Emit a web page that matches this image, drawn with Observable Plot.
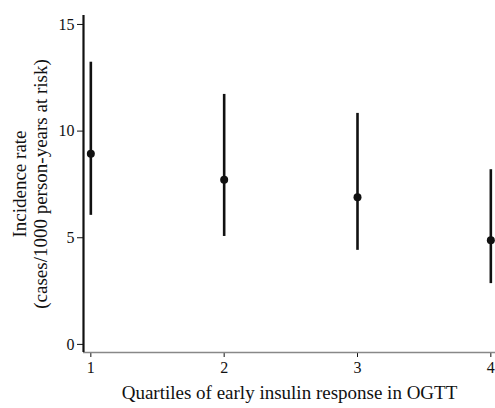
<!DOCTYPE html>
<html>
<head>
<meta charset="utf-8">
<script src="https://cdn.jsdelivr.net/npm/d3@7"></script>
<script src="https://cdn.jsdelivr.net/npm/@observablehq/plot@0.6"></script>
<style>
  html, body { margin: 0; padding: 0; background: #fff; }
</style>
</head>
<body>
<div id="chart"></div>
<script>
const quartiles = [1, 2, 3, 4];
const rates = [8.94, 7.72, 6.9, 4.88];
const lower = [6.05, 5.06, 4.41, 2.85];
const upper = [13.23, 11.72, 10.83, 8.19];
const yTicks = [0, 5, 10, 15];
const xTicks = [1, 2, 3, 4];
const xDomain = [0.945, 4.035];
const yDomain = [-0.38, 15.42];
const xTitle = "Quartiles of early insulin response in OGTT";
const yTitle = "Incidence rate\n(cases/1000 person-years at risk)";

const data = quartiles.map((q, i) => ({q, rate: rates[i], lo: lower[i], hi: upper[i]}));

const chart = Plot.plot({
  width: 495,
  height: 408,
  marginLeft: 83,
  marginRight: 0,
  marginTop: 15,
  marginBottom: 56,
  style: {fontFamily: "'Liberation Serif', 'Times New Roman', serif", fontSize: "16px", color: "#111", background: "#fff"},
  x: {domain: xDomain, ticks: xTicks, tickSize: 5, tickPadding: 4, tickFormat: d => String(d), label: null},
  y: {domain: yDomain, ticks: yTicks, tickSize: 6, tickPadding: 3, label: null},
  marks: [
    Plot.ruleY([yDomain[0]], {stroke: "#888", strokeWidth: 1.6}),
    Plot.ruleX([xDomain[0]], {stroke: "#111", strokeWidth: 2.2}),
    Plot.ruleX(data, {x: "q", y1: "lo", y2: "hi", stroke: "#111", strokeWidth: 2.6}),
    Plot.dot(data, {x: "q", y: "rate", r: 4, fill: "#111", stroke: "none"}),
    Plot.text([xTitle], {frameAnchor: "bottom", dy: 46, fontSize: 19, fill: "#111"}),
    Plot.text([yTitle], {frameAnchor: "left", dx: -54, rotate: -90, textAnchor: "middle", fontSize: 19, lineHeight: 1.15, fill: "#111"})
  ]
});
document.getElementById("chart").appendChild(chart);
</script>
</body>
</html>
